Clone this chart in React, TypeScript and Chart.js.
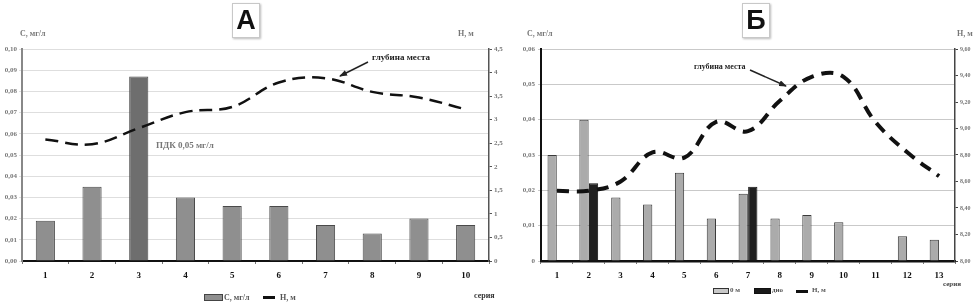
import React, { useEffect, useRef } from "react";
import { Chart, registerables } from "chart.js";
Chart.register(...registerables);

// ---------- DATA ----------
const categoriesA = ["1", "2", "3", "4", "5", "6", "7", "8", "9", "10"];
const concentrationA = [0.019, 0.035, 0.087, 0.03, 0.026, 0.026, 0.017, 0.013, 0.02, 0.017];
const depthA = [2.58, 2.48, 2.82, 3.16, 3.27, 3.79, 3.88, 3.59, 3.47, 3.22];
const highlightIndexA = 2;

const categoriesB = ["1", "2", "3", "4", "5", "6", "7", "8", "9", "10", "11", "12", "13"];
const surfaceB = [0.03, 0.04, 0.018, 0.016, 0.025, 0.012, 0.019, 0.012, 0.013, 0.011, null, 0.007, 0.006];
const bottomB = [null, 0.022, null, null, null, null, 0.021, null, null, null, null, null, null];
const depthB = [8.53, 8.53, 8.6, 8.82, 8.78, 9.05, 8.98, 9.21, 9.39, 9.39, 9.05, 8.82, 8.64];

const SERIF = "'Liberation Serif', 'DejaVu Serif', serif";

const comma = (v: number, d: number) => v.toFixed(d).replace(".", ",");
const halfFmt = (v: number) => (Number.isInteger(v) ? String(v) : comma(v, 1));

function useChart(ref: React.RefObject<HTMLCanvasElement>, build: () => any) {
  useEffect(() => {
    if (!ref.current) return;
    const chart = new Chart(ref.current, build());
    return () => chart.destroy();
  }, []);
}

function ChartA() {
  const ref = useRef<HTMLCanvasElement>(null);
  useChart(ref, () => ({
    type: "bar",
    data: {
      labels: categoriesA,
      datasets: [
        {
          type: "line",
          label: "Н, м",
          data: depthA,
          yAxisID: "y1",
          borderColor: "#111",
          borderWidth: 2.5,
          borderDash: [13, 7],
          pointRadius: 0,
          tension: 0.4,
          order: 0,
        },
        {
          type: "bar",
          label: "С, мг/л",
          data: concentrationA,
          yAxisID: "y",
          backgroundColor: (c: any) => (c.dataIndex === highlightIndexA ? "#6e6e6e" : "#8f8f8f"),
          borderColor: "#4a4a4a",
          borderWidth: 1,
          categoryPercentage: 1,
          barPercentage: 0.41,
          order: 1,
        },
      ],
    },
    options: {
      responsive: false,
      animation: false,
      devicePixelRatio: 1,
      layout: { padding: { top: 49, bottom: 0, left: 0, right: 0 } },
      plugins: { legend: { display: false }, tooltip: { enabled: false }, title: { display: false } },
      scales: {
        x: {
          afterFit: (s: any) => { s.height = 43; },
          grid: { display: true, drawOnChartArea: false, tickLength: 3, color: "#777", offset: true },
          border: { color: "#111", width: 2 },
          ticks: { color: "#111", padding: 6, font: { family: SERIF, size: 9, weight: "bold" } },
        },
        y: {
          position: "left",
          min: 0,
          max: 0.1,
          afterFit: (s: any) => { s.width = 22; },
          ticks: {
            stepSize: 0.01,
            color: "#777",
            padding: 2,
            font: { family: SERIF, size: 7, weight: "bold" },
            callback: (v: any) => comma(Number(v), 2),
          },
          grid: { color: "#dedede", lineWidth: 1, tickLength: 3 },
          border: { color: "#888", width: 2 },
        },
        y1: {
          position: "right",
          min: 0,
          max: 4.5,
          afterFit: (s: any) => { s.width = 26; },
          ticks: {
            stepSize: 0.5,
            color: "#777",
            padding: 2,
            font: { family: SERIF, size: 7, weight: "bold" },
            callback: (v: any) => halfFmt(Number(v)),
          },
          grid: { drawOnChartArea: false, tickLength: 3, color: "#555" },
          border: { color: "#555", width: 1.5 },
        },
      },
    },
  }));
  return <canvas ref={ref} width={515} height={304} style={{ position: "absolute", left: 0, top: 0 }} />;
}

function ChartB() {
  const ref = useRef<HTMLCanvasElement>(null);
  useChart(ref, () => ({
    type: "bar",
    data: {
      labels: categoriesB,
      datasets: [
        {
          type: "line",
          label: "Н, м",
          data: depthB,
          yAxisID: "y1",
          borderColor: "#111",
          borderWidth: 4,
          borderDash: [12, 8],
          pointRadius: 0,
          tension: 0.4,
          order: 0,
        },
        {
          type: "bar",
          label: "0 м",
          data: surfaceB,
          yAxisID: "y",
          backgroundColor: "#ababab",
          borderColor: "#3a3a3a",
          borderWidth: 1,
          categoryPercentage: 0.6,
          barPercentage: 0.97,
          order: 1,
        },
        {
          type: "bar",
          label: "дно",
          data: bottomB,
          yAxisID: "y",
          backgroundColor: "#202020",
          borderColor: "#111",
          borderWidth: 1,
          categoryPercentage: 0.6,
          barPercentage: 0.97,
          order: 1,
        },
      ],
    },
    options: {
      responsive: false,
      animation: false,
      devicePixelRatio: 1,
      layout: { padding: { top: 49, bottom: 0, left: 0, right: 0 } },
      plugins: { legend: { display: false }, tooltip: { enabled: false }, title: { display: false } },
      scales: {
        x: {
          afterFit: (s: any) => { s.height = 43; },
          grid: { display: true, drawOnChartArea: false, tickLength: 3, color: "#777", offset: true },
          border: { color: "#111", width: 2.5 },
          ticks: { color: "#111", padding: 6, font: { family: SERIF, size: 9, weight: "bold" } },
        },
        y: {
          position: "left",
          min: 0,
          max: 0.06,
          afterFit: (s: any) => { s.width = 36; },
          ticks: {
            stepSize: 0.01,
            color: "#777",
            padding: 3,
            font: { family: SERIF, size: 7, weight: "bold" },
            callback: (v: any) => (Number(v) === 0 ? "0" : comma(Number(v), 2)),
          },
          grid: { color: "#c9c9c9", lineWidth: 1, tickLength: 3 },
          border: { color: "#111", width: 2 },
        },
        y1: {
          position: "right",
          min: 8,
          max: 9.6,
          afterFit: (s: any) => { s.width = 20; },
          ticks: {
            stepSize: 0.2,
            color: "#777",
            padding: 2,
            font: { family: SERIF, size: 6, weight: "bold" },
            callback: (v: any) => comma(Number(v), 2),
          },
          grid: { drawOnChartArea: false, tickLength: 3, color: "#444" },
          border: { color: "#444", width: 1.5 },
        },
      },
    },
  }));
  return <canvas ref={ref} width={470} height={304} style={{ position: "absolute", left: 505, top: 0 }} />;
}

const T = (p: { x: number; y: number; children: any; size?: number; color?: string; weight?: any; family?: string }) => (
  <div
    style={{
      position: "absolute",
      left: p.x,
      top: p.y,
      fontFamily: p.family || SERIF,
      fontSize: p.size || 8,
      color: p.color || "#777",
      fontWeight: p.weight || "bold",
      whiteSpace: "nowrap",
      lineHeight: 1,
    }}
  >
    {p.children}
  </div>
);

const Box = (p: { x: number; y: number; w: number; h: number; bg: string; border: string }) => (
  <div
    style={{
      position: "absolute",
      left: p.x,
      top: p.y,
      width: p.w,
      height: p.h,
      background: p.bg,
      border: `1px solid ${p.border}`,
      boxSizing: "border-box",
    }}
  />
);

const TitleBox = (p: { x: number; letter: string }) => (
  <div
    style={{
      position: "absolute",
      left: p.x,
      top: 3,
      width: 28,
      height: 35,
      border: "1px solid #c8c8c8",
      boxShadow: "1px 1px 2px #bbb",
      background: "#fff",
      boxSizing: "border-box",
      display: "flex",
      alignItems: "center",
      justifyContent: "center",
      fontFamily: "'Liberation Sans', Arial, sans-serif",
      fontWeight: "bold",
      fontSize: 27,
      color: "#111",
    }}
  >
    {p.letter}
  </div>
);

export default function App() {
  return (
    <div style={{ position: "fixed", left: 0, top: 0, width: 975, height: 304, background: "#fff", overflow: "hidden" }}>
      <ChartA />
      <ChartB />

      {/* Panel A texts */}
      <TitleBox x={232} letter="А" />
      <T x={20} y={30}>С, мг/л</T>
      <T x={458} y={30}>Н, м</T>
      <T x={156} y={141} size={9}>ПДК 0,05 мг/л</T>
      <T x={372} y={53} size={9} color="#222">глубина места</T>
      <T x={474} y={292} size={8} color="#333">серия</T>
      {/* Legend A */}
      <Box x={204} y={294} w={19} h={7} bg="#8f8f8f" border="#444" />
      <T x={224} y={294} size={8} color="#555">С, мг/л</T>
      <div style={{ position: "absolute", left: 263, top: 296, width: 12, height: 2.5, background: "#111" }} />
      <T x={280} y={294} size={8} color="#555">Н, м</T>

      {/* Panel B texts */}
      <TitleBox x={742} letter="Б" />
      <T x={527} y={30}>С, мг/л</T>
      <T x={957} y={30}>Н, м</T>
      <T x={694} y={63} size={8} color="#222">глубина места</T>
      <T x={943} y={281} size={7} color="#444">серия</T>
      {/* Legend B */}
      <Box x={713} y={288} w={16} h={6} bg="#c8c8c8" border="#333" />
      <T x={730} y={287} size={7} color="#555">0 м</T>
      <Box x={754} y={288} w={17} h={6} bg="#1a1a1a" border="#111" />
      <T x={772} y={287} size={7} color="#555">дно</T>
      <div style={{ position: "absolute", left: 796, top: 290, width: 12, height: 3, background: "#111" }} />
      <T x={812} y={287} size={7} color="#555">Н, м</T>

      {/* arrows */}
      <svg width={975} height={304} style={{ position: "absolute", left: 0, top: 0, pointerEvents: "none" }}>
        <defs>
          <marker id="ah" markerWidth="8" markerHeight="6" refX="7" refY="3" orient="auto" markerUnits="userSpaceOnUse">
            <path d="M0,0 L8,3 L0,6 Z" fill="#222" />
          </marker>
        </defs>
        <line x1={368} y1={62} x2={340} y2={76} stroke="#222" strokeWidth={1.5} markerEnd="url(#ah)" />
        <line x1={750} y1={70} x2={786} y2={86} stroke="#222" strokeWidth={1.5} markerEnd="url(#ah)" />
      </svg>
    </div>
  );
}
